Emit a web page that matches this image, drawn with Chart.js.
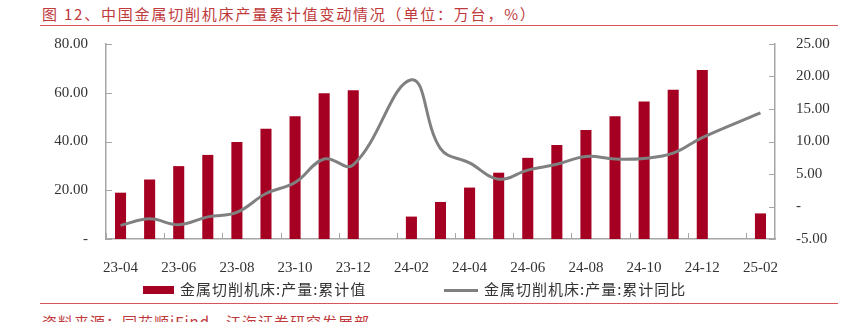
<!DOCTYPE html>
<html>
<head>
<meta charset="utf-8">
<script src="https://cdn.jsdelivr.net/npm/chart.js@4/dist/chart.umd.min.js"></script>
<style>
  html, body { margin: 0; padding: 0; background: #fff; }
  #wrap { position: relative; width: 863px; height: 322px; overflow: hidden; font-family: "Noto Sans CJK SC", "Liberation Serif", serif; }
  #title { position: absolute; left: 42px; top: 3px; font-size: 15px; color: #c0393b; letter-spacing: 1.8px; white-space: nowrap; }
  #topline { position: absolute; left: 40px; width: 798px; top: 25px; height: 0; border-top: 1.5px solid #d9545a; }
  #chartbox { position: absolute; left: 0; top: 22px; width: 863px; height: 258px; }
  #legend { position: absolute; top: 279px; left: 0; width: 863px; height: 20px; font-size: 15px; color: #333; white-space: nowrap; }
  .lg { position: absolute; top: 0; line-height: 20px; letter-spacing: 1px; }
  #botline { position: absolute; left: 40px; width: 798px; top: 303px; height: 0; border-top: 1.5px solid #d9545a; }
  #foot { position: absolute; left: 42px; top: 311px; font-size: 15px; color: #c0393b; white-space: nowrap; letter-spacing: 1px; }
</style>
</head>
<body>
<div id="wrap">
  <div id="title">图 12、中国金属切削机床产量累计值变动情况（单位：万台，%）</div>
  <div id="topline"></div>
  <div id="chartbox"><canvas id="chart"></canvas></div>
  <div id="legend">
    <span style="position:absolute;left:143px;top:7px;width:31px;height:8px;background:#a50021"></span>
    <span class="lg" style="left:180px">金属切削机床:产量:累计值</span>
    <span style="position:absolute;left:444px;top:10px;width:34px;height:3px;background:#808080"></span>
    <span class="lg" style="left:484px">金属切削机床:产量:累计同比</span>
  </div>
  <div id="botline"></div>
  <div id="foot">资料来源：同花顺iFind，江海证券研究发展部</div>
</div>
<script>
const months = ['23-04','23-05','23-06','23-07','23-08','23-09','23-10','23-11','23-12',
                '24-01','24-02','24-03','24-04','24-05','24-06','24-07','24-08','24-09','24-10','24-11','24-12',
                '25-01','25-02'];
// 累计值 (万台)
const cumValue = [19.0, 24.4, 29.9, 34.5, 39.8, 45.2, 50.4, 59.8, 61.0,
                  null, 9.2, 15.2, 21.1, 27.2, 33.3, 38.6, 44.7, 50.4, 56.4, 61.2, 69.3,
                  null, 10.5];
// 累计同比 (%)
const cumYoY = [-2.9, -1.9, -2.8, -1.6, -0.9, 2.0, 3.7, 7.3, 6.4,
                null, 19.5, 8.9, 6.7, 4.2, 5.6, 6.5, 7.7, 7.3, 7.4, 8.2, 10.6,
                null, 14.4];
const leftTicks = [0, 20, 40, 60, 80];
const rightTicks = [-5, 0, 5, 10, 15, 20, 25];

const axisColor = '#a6a6a6';
const tickFont = { family: 'Liberation Serif', size: 15 };

// small inward tick marks like the source chart
const innerTicks = {
    id: 'innerTicks',
    afterDatasetsDraw(chart) {
        const { ctx, chartArea: a, scales } = chart;
        ctx.save();
        ctx.strokeStyle = axisColor;
        ctx.lineWidth = 1;
        ctx.beginPath();
        const xs = scales.x;
        const half = (xs.getPixelForValue(1) - xs.getPixelForValue(0)) / 2;
        for (let i = 0; i <= months.length; i += 2) {
            const px = Math.round(xs.getPixelForValue(i) - half) + 0.5;
            ctx.moveTo(px, a.bottom);
            ctx.lineTo(px, a.bottom - 6);
        }
        leftTicks.forEach(v => {
            const py = Math.round(scales.y.getPixelForValue(v)) + 0.5;
            ctx.moveTo(a.left, py);
            ctx.lineTo(a.left + 6, py);
        });
        rightTicks.forEach(v => {
            const py = Math.round(scales.y1.getPixelForValue(v)) + 0.5;
            ctx.moveTo(a.right, py);
            ctx.lineTo(a.right - 6, py);
        });
        ctx.stroke();
        ctx.restore();
    }
};

new Chart(document.getElementById('chart'), {
    data: {
        labels: months,
        datasets: [
            {
                type: 'line',
                label: '金属切削机床:产量:累计同比',
                data: cumYoY,
                yAxisID: 'y1',
                borderColor: '#808080',
                borderWidth: 3,
                pointRadius: 0,
                tension: 0.4,
                spanGaps: true,
                order: 0
            },
            {
                type: 'bar',
                label: '金属切削机床:产量:累计值',
                data: cumValue,
                yAxisID: 'y',
                backgroundColor: '#a50021',
                barPercentage: 0.38,
                categoryPercentage: 1,
                order: 1
            }
        ]
    },
    options: {
        responsive: true,
        maintainAspectRatio: false,
        animation: false,
        layout: { padding: { top: 8, left: 0, right: 0, bottom: 0 } },
        plugins: { legend: { display: false }, tooltip: { enabled: false } },
        scales: {
            x: {
                offset: true,
                grid: { display: false },
                border: { color: axisColor, width: 1.5 },
                ticks: {
                    autoSkip: false,
                    maxRotation: 0,
                    padding: 12,
                    color: '#333',
                    font: tickFont,
                    callback: (v, i) => i % 2 === 0 ? months[i] : ''
                },
                afterFit: s => { s.height = 41; }
            },
            y: {
                position: 'left',
                min: 0,
                max: 80,
                grid: { display: false },
                border: { color: axisColor, width: 1.5 },
                ticks: {
                    stepSize: 20,
                    padding: 10,
                    color: '#333',
                    font: tickFont,
                    callback: v => v === 0 ? '-' : v.toFixed(2)
                },
                afterFit: s => { s.width = 106; }
            },
            y1: {
                position: 'right',
                min: -5,
                max: 25,
                grid: { display: false },
                border: { color: axisColor, width: 1.5 },
                ticks: {
                    stepSize: 5,
                    padding: 13,
                    color: '#333',
                    font: tickFont,
                    callback: v => v === 0 ? '-' : v.toFixed(2)
                },
                afterFit: s => { s.width = 88; }
            }
        }
    },
    plugins: [innerTicks]
});
</script>
</body>
</html>
